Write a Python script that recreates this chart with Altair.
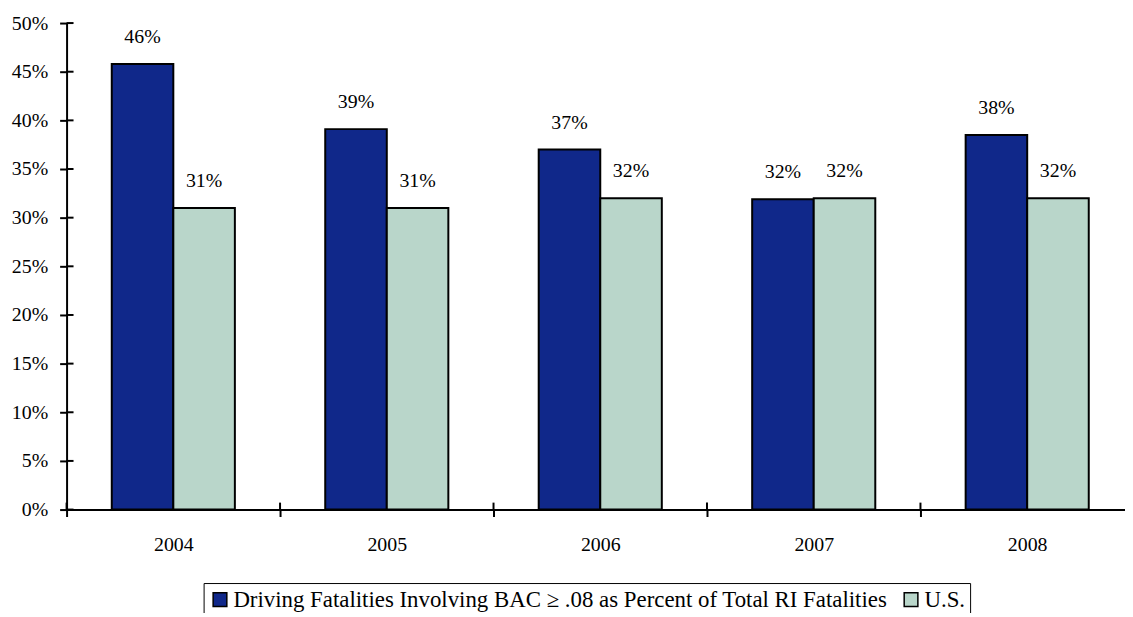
import altair as alt
import pandas as pd

years = ["2004", "2005", "2006", "2007", "2008"]
ri_values = [0.458, 0.391, 0.370, 0.319, 0.385]
us_values = [0.310, 0.310, 0.320, 0.320, 0.320]
ri_labels = ["46%", "39%", "37%", "32%", "38%"]
us_labels = ["31%", "31%", "32%", "32%", "32%"]
series = ["Driving Fatalities Involving BAC \u2265 .08 as Percent of Total RI Fatalities", "U.S."]
colors = ["#10288A", "#B9D6CA"]
y_ticks = [0, 0.05, 0.10, 0.15, 0.20, 0.25, 0.30, 0.35, 0.40, 0.45, 0.50]

rows = []
for i, yr in enumerate(years):
    rows.append({"year": yr, "series": series[0], "value": ri_values[i], "label": ri_labels[i]})
    rows.append({"year": yr, "series": series[1], "value": us_values[i], "label": us_labels[i]})
df = pd.DataFrame(rows)
tick_df = pd.DataFrame({"value": y_ticks})
year_df = pd.DataFrame({"year": years})

FONT = "Liberation Serif"

xscale = alt.Scale(domain=years, paddingInner=0, paddingOuter=0)
yscale = alt.Scale(domain=[0, 0.5], nice=False)

x_axis = alt.Axis(tickBand="extent", labelAngle=0, labelPadding=18)
y_axis = alt.Axis(values=y_ticks, format=".0%", labelPadding=12)

x_enc = alt.X("year:N", title=None, scale=xscale, axis=x_axis)
y_enc = alt.Y("value:Q", title=None, scale=yscale, axis=y_axis)
xoff = alt.XOffset("series:N", sort=series,
                   scale=alt.Scale(domain=series, paddingInner=0, paddingOuter=0.734))

bars = alt.Chart(df).mark_bar(stroke="black", strokeWidth=2).encode(
    x=x_enc,
    xOffset=xoff,
    y=y_enc,
    color=alt.Color("series:N", sort=series,
                    scale=alt.Scale(domain=series, range=colors),
                    legend=alt.Legend(title=None, orient="none", legendX=138, legendY=564,
                                      direction="horizontal", labelFontSize=23, labelFont=FONT,
                                      labelColor="black", labelLimit=0, symbolType="square",
                                      symbolSize=190, symbolStrokeColor="black",
                                      symbolStrokeWidth=1.5, padding=5, strokeColor="black",
                                      columnPadding=12, labelOffset=2, fillColor="white",
                                      cornerRadius=0)),
)

labels = alt.Chart(df).mark_text(dy=-27, fontSize=20, font=FONT, color="black").encode(
    x=x_enc,
    xOffset=xoff,
    y=y_enc,
    text="label:N",
)

y_inner = alt.Chart(tick_df).mark_rule(color="black", strokeWidth=2).encode(
    y=y_enc,
    x=alt.value(0), x2=alt.value(7),
)

x_inner = alt.Chart(year_df).mark_rule(color="black", strokeWidth=2).encode(
    x=alt.X("year:N", title=None, scale=xscale, axis=x_axis, bandPosition=0),
    y=alt.value(490), y2=alt.value(483),
)

chart = alt.layer(bars, labels, y_inner, x_inner).properties(
    width=1075, height=490,
    autosize=alt.AutoSizeParams(type="none"),
    padding={"left": 59, "top": 13, "right": -9, "bottom": 102},
).configure_view(stroke=None).configure_axis(
    domainColor="black", domainWidth=2, tickColor="black", tickWidth=2, tickSize=7,
    labelFont=FONT, labelFontSize=20, labelColor="black", grid=False, title=None,
)

chart.save("out.html", embed_options={"renderer": "svg", "actions": False})
